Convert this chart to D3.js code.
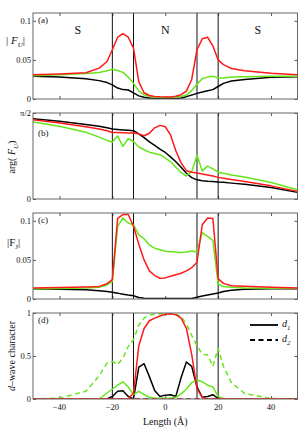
<!DOCTYPE html>
<html>
<head>
<meta charset="utf-8">
<script src="https://cdn.jsdelivr.net/npm/d3@7"></script>
<style>
  body { margin: 0; background: #fff; }
  svg text { font-family: "Liberation Serif", "DejaVu Serif", serif; fill: #111; }
</style>
</head>
<body>
<svg id="chart" width="304" height="434"></svg>
<script>
// positions along the junction (Å)
var xs = [-50, -40, -30, -25, -22, -20, -18, -16, -14, -12, -10, -8, -6, -4, -2, 0,
  2, 4, 6, 8, 10, 12, 14, 16, 18, 20, 22, 25, 30, 40, 50];
var interfaces = [-20, -12, 12, 20];
var regions = [{ label: "S", x: -33 }, { label: "N", x: 0 }, { label: "S", x: 35 }];
var xTicks = [-40, -20, 0, 20, 40];

// (a) |F_U|
var aRed = [.031, .032, .0335, .0395, .048, .063, .079, .0835, .079, .065, .022, .008, .0045, .0033, .0028, .0026,
  .0027, .0035, .0055, .010, .025, .063, .077, .079, .068, .050, .044, .039, .036, .033, .031];
var aGreen = [.0298, .031, .0325, .034, .036, .038, .0365, .034, .028, .020, .010, .0055, .0035, .0025, .002, .0018,
  .002, .0025, .0032, .005, .011, .019, .026, .028, .029, .027, .027, .028, .0285, .029, .029];
var aBlack = [.029, .028, .026, .0235, .021, .018, .014, .012, .0115, .0078, .004, .0022, .0012, .0007, .0005, .0005,
  .0006, .0008, .0012, .003, .005, .0072, .009, .0105, .012, .016, .020, .023, .025, .0278, .0285];

// (b) arg(F_U), radians
var bRed = [1.448, 1.39, 1.32, 1.28, 1.245, 1.216, 1.213, 1.21, 1.207, 1.205, 1.19, 1.156, 1.20, 1.30, 1.345, 1.32,
  1.17, 0.88, 0.66, 0.517, 0.49, 0.475, 0.455, 0.44, 0.42, 0.395, 0.38, 0.355, 0.32, 0.24, 0.139];
var bGreen = [1.406, 1.33, 1.22, 1.13, 1.07, 1.04, 1.15, 0.96, 1.10, 1.05, 0.95, 0.90, 0.855, 0.83, 0.809, 0.75,
  0.68, 0.58, 0.48, 0.42, 0.50, 0.80, 0.51, 0.60, 0.55, 0.49, 0.47, 0.44, 0.40, 0.30, 0.17];
var bBlack = [1.467, 1.42, 1.36, 1.33, 1.30, 1.279, 1.27, 1.262, 1.255, 1.248, 1.19, 1.12, 1.045, 0.98, 0.91, 0.85,
  0.77, 0.68, 0.58, 0.47, 0.39, 0.35, 0.335, 0.325, 0.318, 0.31, 0.305, 0.29, 0.27, 0.21, 0.121];

// (c) |F_J|
var cRed = [.0141, .0148, .0155, .0161, .0196, .0247, .103, .108, .108, .093, .070, .050, .036, .030, .0265, .027,
  .029, .031, .033, .036, .040, .047, .095, .1035, .103, .026, .020, .017, .0162, .015, .0141];
var cGreen = [.0128, .0135, .0142, .015, .018, .0225, .093, .1036, .0972, .095, .082, .077, .069, .065, .0631, .061,
  .0605, .060, .0596, .060, .0615, .060, .085, .080, .075, .019, .016, .015, .0142, .0138, .0136];
var cBlack = [.0128, .0125, .0118, .0105, .0095, .0085, .0075, .0062, .005, .0042, .002, .001, .0006, .0005, .0005, .0005,
  .0005, .0005, .0005, .0006, .0007, .0022, .0038, .0052, .0065, .0078, .0095, .0112, .0125, .013, .013];

// (d) d-wave character: solid d1, dashed d2
var dRed1 = [0, 0, 0, 0, 0, 0, 0, 0, 0, 0.07, 0.62, 0.82, 0.91, 0.94, 0.965, 0.985,
  0.99, 0.98, 0.94, 0.82, 0.52, 0.12, 0.015, 0, 0, 0, 0, 0, 0, 0, 0];
var dGreen1 = [0, 0, 0, 0, 0.07, 0.116, 0.16, 0.20, 0.14, 0.05, 0.09, 0.05, 0.02, 0.01, 0.01, 0.01,
  0.01, 0.02, 0.06, 0.116, 0.19, 0.22, 0.20, 0.16, 0.14, 0.03, 0.005, 0, 0, 0, 0];
var dBlack1 = [0, 0, 0, 0, 0, 0.03, 0.09, 0.095, 0.03, 0, 0.37, 0.41, 0.26, 0.10, 0.03, 0.045,
  0.05, 0.03, 0.25, 0.43, 0.38, 0.14, 0.02, 0.03, 0.05, 0.005, 0, 0, 0, 0, 0];
var dRed2 = [0, 0, 0, 0, 0, 0, 0, 0, 0, 0, 0, 0, 0, 0, 0, 0,
  0, 0, 0, 0, 0, 0, 0, 0, 0, 0, 0, 0, 0, 0, 0];
var dGreen2 = [0, 0.01, 0.09, 0.27, 0.42, 0.437, 0.40, 0.477, 0.61, 0.69, 0.86, 0.94, 0.975, 0.985, 0.99, 0.99,
  0.99, 0.985, 0.96, 0.87, 0.74, 0.62, 0.52, 0.515, 0.38, 0.59, 0.38, 0.19, 0.065, 0.005, 0];
var dBlack2 = [0, 0, 0, 0, 0, 0, 0, 0, 0, 0, 0, 0, 0, 0, 0, 0,
  0, 0, 0, 0, 0, 0, 0, 0, 0, 0, 0, 0, 0, 0, 0];

var RED = "#ff1a1a", GREEN = "#66e61a", BLACK = "#000";

var panels = [
  { tag: "(a)", top: 13, domain: [0, 0.11], ticks: [0, 0.05, 0.1], labels: ["0", "0.05", "0.1"],
    series: [[aBlack, BLACK], [aGreen, GREEN], [aRed, RED]] },
  { tag: "(b)", top: 113, domain: [0, Math.PI / 2], ticks: [0, Math.PI / 2], labels: ["0", "\u03c0/2"],
    series: [[bBlack, BLACK], [bGreen, GREEN], [bRed, RED]] },
  { tag: "(c)", top: 213, domain: [0, 0.11], ticks: [0, 0.05, 0.1], labels: ["0", "0.05", "0.1"],
    series: [[cBlack, BLACK], [cGreen, GREEN], [cRed, RED]] },
  { tag: "(d)", top: 313, domain: [0, 1], ticks: [0, 0.5, 1], labels: ["0", "0.5", "1"],
    series: [[dBlack2, BLACK, true], [dGreen2, GREEN, true], [dBlack1, BLACK], [dGreen1, GREEN], [dRed1, RED], [dRed2, RED, true]] }
];

var svg = d3.select("#chart");
var left = 33, right = 297.5, ph = 86;
var x = d3.scaleLinear().domain([-50, 50]).range([left, right]);

panels.forEach(function (p, i) {
  var y = d3.scaleLinear().domain(p.domain).range([p.top + ph, p.top]);
  var g = svg.append("g");

  // clip so lines stay inside the frame
  var clipId = "clip" + i;
  svg.append("clipPath").attr("id", clipId).append("rect")
    .attr("x", left).attr("y", p.top).attr("width", right - left).attr("height", ph);

  // inward ticks on all four sides
  g.append("g").attr("transform", "translate(0," + (p.top + ph) + ")")
    .call(d3.axisBottom(x).tickValues(xTicks).tickSizeInner(-3).tickSizeOuter(0).tickFormat(""));
  g.append("g").attr("transform", "translate(0," + p.top + ")")
    .call(d3.axisTop(x).tickValues(xTicks).tickSizeInner(-3).tickSizeOuter(0).tickFormat(""));
  g.append("g").attr("transform", "translate(" + left + ",0)")
    .call(d3.axisLeft(y).tickValues(p.ticks).tickSizeInner(-3).tickSizeOuter(0).tickFormat(""));
  g.append("g").attr("transform", "translate(" + right + ",0)")
    .call(d3.axisRight(y).tickValues(p.ticks).tickSizeInner(-3).tickSizeOuter(0).tickFormat(""));
  g.selectAll(".domain").remove();
  g.selectAll(".tick line").attr("stroke", "#555");

  // tick labels on the left
  g.selectAll(".ylab").data(p.ticks).enter().append("text")
    .attr("x", left - 2).attr("y", function (d) { return y(d) + 3; })
    .attr("text-anchor", "end").attr("font-size", 8.5)
    .text(function (d, k) { return p.labels[k]; });

  // interface lines
  g.selectAll(".iface").data(interfaces).enter().append("line")
    .attr("x1", function (d) { return x(d); }).attr("x2", function (d) { return x(d); })
    .attr("y1", p.top).attr("y2", p.top + ph)
    .attr("stroke", "#111").attr("stroke-width", 1);

  var line = d3.line()
    .x(function (d, k) { return x(xs[k]); })
    .y(function (d) { return y(d); });

  p.series.forEach(function (s) {
    g.append("path").datum(s[0])
      .attr("clip-path", "url(#" + clipId + ")")
      .attr("d", line).attr("fill", "none")
      .attr("stroke", s[1]).attr("stroke-width", 1.5)
      .attr("stroke-linejoin", "round")
      .attr("stroke-dasharray", s[2] ? "5,3.5" : null);
  });

  // frame
  g.append("rect").attr("x", left).attr("y", p.top).attr("width", right - left).attr("height", ph)
    .attr("fill", "none").attr("stroke", "#666").attr("stroke-width", 1);

  g.append("text").attr("x", left + 5).attr("y", p.top + (i === 1 ? 23 : 10))
    .attr("font-size", 9).text(p.tag);

  if (i === 3) {
    g.selectAll(".xlab").data(xTicks).enter().append("text")
      .attr("x", function (d) { return x(d); }).attr("y", p.top + ph + 11)
      .attr("text-anchor", "middle").attr("font-size", 8.5)
      .text(function (d) { return d < 0 ? "\u2212" + (-d) : d; });
  }
});

// region labels
svg.selectAll(".region").data(regions).enter().append("text")
  .attr("x", function (d) { return x(d.x); }).attr("y", 34)
  .attr("text-anchor", "middle").attr("font-size", 12).text(function (d) { return d.label; });

// y axis titles
var t1 = svg.append("text").attr("x", 6).attr("y", 44).attr("font-size", 11);
t1.append("tspan").text("| ");
t1.append("tspan").attr("font-style", "italic").text("F");
t1.append("tspan").attr("font-size", 7).attr("font-style", "italic").attr("dy", 3).text("U");
t1.append("tspan").attr("dy", -3).text("|");

var t2 = svg.append("text").attr("transform", "translate(15,157) rotate(-90)")
  .attr("text-anchor", "middle").attr("font-size", 10);
t2.append("tspan").text("arg( ");
t2.append("tspan").attr("font-style", "italic").text("F");
t2.append("tspan").attr("font-size", 7).attr("font-style", "italic").attr("dy", 3).text("U");
t2.append("tspan").attr("dy", -3).text(")");

var t3 = svg.append("text").attr("x", 7).attr("y", 246).attr("font-size", 11);
t3.append("tspan").text("|F");
t3.append("tspan").attr("font-size", 7).attr("dy", 3).text("J");
t3.append("tspan").attr("dy", -3).text("|");

var t4 = svg.append("text").attr("transform", "translate(15,356) rotate(-90)")
  .attr("text-anchor", "middle").attr("font-size", 10);
t4.append("tspan").attr("font-style", "italic").text("d");
t4.append("tspan").text("\u2013wave character");

// x axis title
svg.append("text").attr("x", x(0)).attr("y", 425).attr("text-anchor", "middle")
  .attr("font-size", 10).text("Length (\u00c5)");

// legend in (d)
var legend = [{ name: "1", dash: null, y: 325 }, { name: "2", dash: "5,3.5", y: 340 }];
legend.forEach(function (l) {
  svg.append("line").attr("x1", 250).attr("x2", 278).attr("y1", l.y).attr("y2", l.y)
    .attr("stroke", "#000").attr("stroke-width", 1.8).attr("stroke-dasharray", l.dash);
  var t = svg.append("text").attr("x", 282).attr("y", l.y + 2).attr("font-size", 10);
  t.append("tspan").attr("font-style", "italic").text("d");
  t.append("tspan").attr("font-size", 7).attr("font-style", "italic").attr("dy", 3).text(l.name);
});
</script>
</body>
</html>
